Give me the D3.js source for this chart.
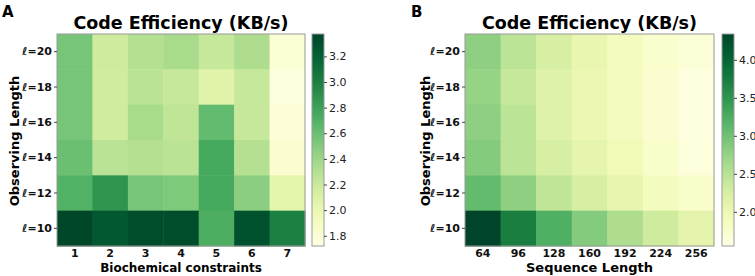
<!DOCTYPE html>
<html><head><meta charset="utf-8">
<script src="https://cdn.jsdelivr.net/npm/d3@7"></script>
<style>body{margin:0;background:#fff}svg{display:block}text{font-family:"DejaVu Sans",sans-serif}</style>
</head><body><svg id="c" width="755" height="276"></svg>
<script>
const rowLabels = ["ℓ=20","ℓ=18","ℓ=16","ℓ=14","ℓ=12","ℓ=10"];
const colsA = ["1","2","3","4","5","6","7"];
const colsB = ["64","96","128","160","192","224","256"];
const valuesA = [
  [2.55,2.18,2.30,2.35,2.22,2.33,1.80],
  [2.55,2.17,2.27,2.22,2.08,2.22,1.75],
  [2.55,2.17,2.35,2.25,2.63,2.22,1.78],
  [2.60,2.27,2.30,2.27,2.75,2.30,1.82],
  [2.70,2.88,2.55,2.52,2.75,2.47,2.05],
  [3.37,3.26,3.33,3.33,2.72,3.30,3.00]
];
const valuesB = [
  [2.80,2.47,2.25,2.05,1.88,1.75,1.66],
  [2.75,2.39,2.16,2.02,1.88,1.72,1.60],
  [2.80,2.47,2.16,2.02,1.88,1.72,1.60],
  [2.86,2.47,2.25,2.10,1.94,1.77,1.63],
  [3.08,2.80,2.44,2.25,2.08,1.88,1.77],
  [4.34,3.73,3.22,2.86,2.58,2.33,2.11]
];
const domainA = [1.72, 3.375];
const domainB = [1.55, 4.34];
const ticksA = [1.8,2.0,2.2,2.4,2.6,2.8,3.0,3.2];
const ticksB = [2.0,2.5,3.0,3.5,4.0];
const xLabelA = "Biochemical constraints";
const xLabelB = "Sequence Length";
const yLabel = "Observing Length";
const title = "Code Efficiency (KB/s)";

const svg = d3.select("#c");
const defs = svg.append("defs");

function panel(opt){
  const g = svg.append("g");
  const x = d3.scaleBand().domain(opt.cols).range([opt.x0, opt.x1]);
  const y = d3.scaleBand().domain(rowLabels).range([34, 246]);
  const color = d3.scaleSequential(d3.interpolateYlGn).domain(opt.domain);
  const cells = [];
  opt.values.forEach((row,i)=>row.forEach((v,j)=>cells.push({r:rowLabels[i],c:opt.cols[j],v})));
  g.selectAll("rect.cell").data(cells).join("rect").attr("class","cell")
    .attr("x",d=>x(d.c)).attr("y",d=>y(d.r))
    .attr("width",x.bandwidth()+0.5).attr("height",y.bandwidth()+0.5)
    .attr("fill",d=>color(d.v));
  g.append("rect").attr("x",opt.x0).attr("y",34).attr("width",opt.x1-opt.x0).attr("height",212)
    .attr("fill","none").attr("stroke","#999").attr("stroke-width",1);
  // y axis
  const ya = g.append("g").attr("transform",`translate(${opt.x0},0)`)
    .call(d3.axisLeft(y).tickSize(3).tickPadding(2));
  ya.select(".domain").remove();
  ya.selectAll("line").attr("stroke","#444");
  ya.selectAll("text").attr("font-size",11).attr("font-weight","bold").attr("fill","#111");
  // x axis
  const xa = g.append("g").attr("transform",`translate(0,246)`)
    .call(d3.axisBottom(x).tickSize(0).tickPadding(3));
  xa.select(".domain").remove();
  xa.selectAll("text").attr("font-size",11).attr("font-weight","bold").attr("fill","#111");
  // labels
  g.append("text").attr("x",(opt.x0+opt.x1)/2).attr("y",272).attr("text-anchor","middle")
    .attr("font-size",opt.xLabSize).attr("font-weight","bold").text(opt.xLabel);
  g.append("text").attr("transform",`translate(${opt.yLabX},141) rotate(-90)`).attr("text-anchor","middle")
    .attr("font-size",13).attr("font-weight","bold").text(yLabel);
  g.append("text").attr("x",(opt.x0+opt.x1)/2).attr("y",29).attr("text-anchor","middle")
    .attr("font-size",17.5).attr("font-weight","bold").text(title);
  g.append("text").attr("x",opt.letterX).attr("y",17).attr("font-size",15).attr("font-weight","bold").text(opt.letter);
  // colorbar
  const cy = d3.scaleLinear().domain(opt.domain).range([246,34]);
  const gid = "grad"+opt.letter;
  const grad = defs.append("linearGradient").attr("id",gid).attr("x1",0).attr("y1",1).attr("x2",0).attr("y2",0);
  d3.range(0,1.0001,0.05).forEach(t=>grad.append("stop").attr("offset",t)
    .attr("stop-color",color(opt.domain[0]+t*(opt.domain[1]-opt.domain[0]))));
  g.append("rect").attr("x",opt.cbX).attr("y",34).attr("width",12).attr("height",212)
    .attr("fill",`url(#${gid})`).attr("stroke","#999").attr("stroke-width",1);
  const ca = g.append("g").attr("transform",`translate(${opt.cbX+12},0)`)
    .call(d3.axisRight(cy).tickValues(opt.ticks).tickFormat(d3.format(".1f")).tickSize(3).tickPadding(2));
  ca.select(".domain").remove();
  ca.selectAll("line").attr("stroke","#444");
  ca.selectAll("text").attr("font-size",11).attr("fill","#222");
}

panel({x0:57,x1:305,cols:colsA,values:valuesA,domain:domainA,ticks:ticksA,xLabel:xLabelA,xLabSize:12,yLabX:19,letter:"A",letterX:2,cbX:312});
panel({x0:465,x1:714,cols:colsB,values:valuesB,domain:domainB,ticks:ticksB,xLabel:xLabelB,xLabSize:13,yLabX:430,letter:"B",letterX:411,cbX:722});
</script></body></html>
